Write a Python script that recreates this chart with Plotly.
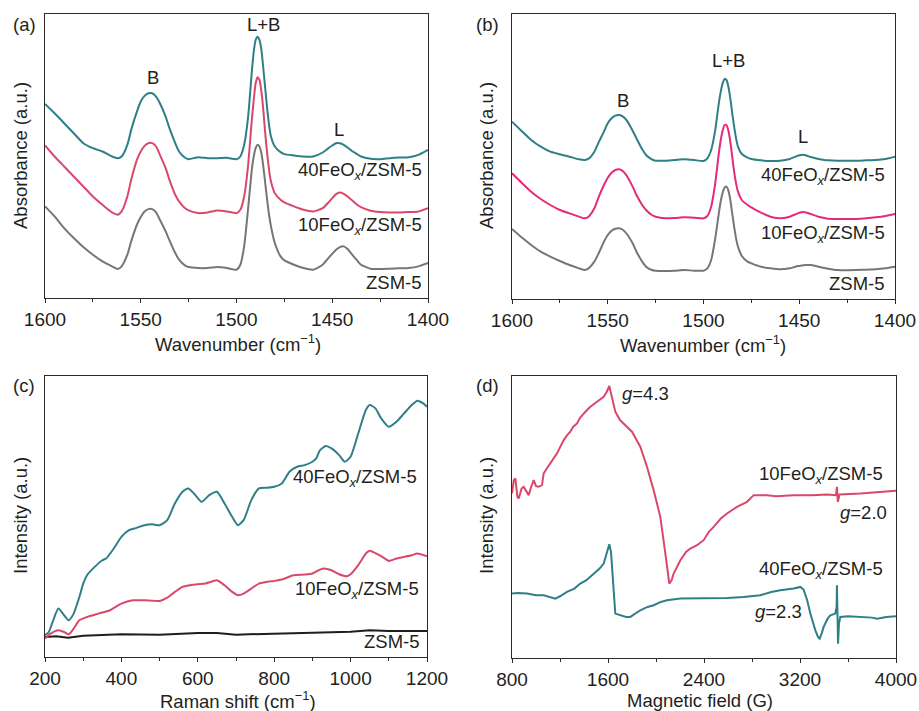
import plotly.graph_objects as go

# ---------------- Panel (a): FTIR pyridine, series (a.u.) ----------------
x_ab = [1600,1595,1590,1585,1580,1575,1570,1565,1562,1560,1557,1555,1552,1550,1548,1546,1544,1542,1540,
        1537,1535,1532,1530,1527,1525,1520,1515,1510,1505,1500,1498,1496,1494,1492,1491,1490,1489,1488,
        1487,1486,1485,1484,1483,1482,1480,1477,1475,1470,1465,1460,1455,1452,1450,1448,1446,1444,1442,
        1440,1437,1435,1430,1425,1420,1415,1410,1405,1400]

a_40 = [583,555,525,495,465,450,440,425,420,425,460,505,560,590,607,615,615,605,585,
        545,510,465,440,422,417,423,420,420,421,417,425,460,540,680,740,775,785,775,
        745,690,630,570,520,485,455,438,432,428,425,425,437,450,458,465,465,460,452,
        443,432,425,418,417,420,422,423,430,445]
a_10 = [458,425,395,365,335,305,280,257,250,260,305,355,415,440,457,465,465,455,430,
        390,355,310,290,270,263,255,257,263,260,255,265,305,395,535,595,645,663,655,
        620,565,495,435,385,350,315,295,287,275,265,260,270,287,300,312,317,313,305,
        295,280,273,262,258,257,257,258,260,270]
a_z = [275,245,210,180,153,130,110,95,87,95,130,170,220,243,260,267,267,257,235,
       200,173,135,115,98,93,90,90,93,90,85,100,155,265,385,425,450,460,455,
       435,395,345,295,250,215,165,125,113,100,90,85,100,120,133,145,153,155,147,
       133,113,100,88,87,88,89,90,95,105]

# ---------------- Panel (b) ----------------
b_40 = [532,504,477,457,442,434,427,419,417,421,442,467,502,527,542,550,552,547,535,
        505,482,449,432,419,415,415,417,419,417,414,422,447,502,587,622,647,660,657,
        637,602,557,517,482,457,435,424,420,416,414,415,420,427,431,433,430,426,423,
        420,417,416,415,415,415,416,417,420,427]
b_10 = [377,349,322,300,282,267,257,247,242,247,272,302,342,364,379,387,389,383,369,
        337,312,282,267,252,247,242,243,245,244,242,249,277,342,437,477,505,522,522,
        505,472,427,382,347,322,297,282,275,259,247,242,247,254,259,261,259,255,251,
        247,243,241,240,240,240,242,245,249,255]
b_z = [210,185,162,142,127,114,102,92,87,92,112,134,172,192,205,211,212,207,195,
       167,142,112,97,87,85,84,85,87,85,85,92,117,177,257,294,319,334,337,
       325,297,257,217,182,157,129,112,107,97,92,89,92,97,99,101,102,102,100,
       97,93,91,87,86,87,88,89,92,97]

# ---------------- Panel (c): Raman ----------------
c40_x = [200,210,220,235,250,262,275,290,300,310,330,350,360,380,400,420,440,460,480,500,520,540,560,
         575,590,610,630,650,670,690,705,720,740,760,780,800,820,840,860,880,900,910,920,935,950,970,
         985,1000,1020,1040,1050,1065,1080,1100,1120,1140,1160,1175,1190,1200]
c40_y = [65,75,105,145,125,110,130,180,220,245,270,290,295,325,360,380,387,395,398,395,410,460,495,
         505,490,465,485,495,460,420,395,410,470,505,507,510,520,555,570,575,585,595,620,632,625,605,
         585,600,670,740,755,745,715,690,705,730,755,768,760,750]
c10_x = [200,215,235,250,262,275,290,310,340,370,400,430,460,500,520,540,560,580,600,620,650,670,690,
         705,720,740,760,780,800,820,850,880,900,920,930,950,970,990,1000,1020,1040,1050,1070,1090,
         1100,1120,1140,1160,1175,1200]
c10_y = [55,70,80,75,68,85,110,120,130,140,160,170,170,168,178,195,210,215,218,220,230,215,195,
         185,190,205,220,225,228,232,245,247,250,262,265,260,248,242,248,275,310,318,308,295,
         288,295,300,305,310,302]
cz_x = [200,230,260,300,400,500,600,650,700,750,800,900,1000,1050,1100,1200]
cz_y = [60,62,58,64,68,67,72,72,67,68,70,73,76,80,78,78]

# ---------------- Panel (d): EPR ----------------
d10_x = [800,815,828,845,856,880,897,920,939,960,981,1000,1022,1050,1064,1090,1119,1150,1175,1200,
         1231,1260,1286,1310,1342,1370,1397,1425,1453,1480,1508,1535,1564,1590,1611,1625,1640,1661,
         1700,1758,1800,1869,1925,1980,2036,2078,2100,2111,2130,2147,2203,2250,2286,2342,2397,2440,
         2481,2540,2592,2675,2758,2814,2870,2925,3000,3147,3300,3425,3500,3508,3515,3530,3703,3850,4000]
d10_y = [493,533,538,483,478,508,513,498,488,513,533,515,513,518,553,568,583,601,613,631,
         653,668,678,693,703,721,733,743,753,761,768,775,783,798,815,793,768,738,
         713,693,678,633,573,503,423,313,243,223,233,253,293,318,328,338,353,378,
         393,418,433,453,468,488,488,488,485,488,488,490,488,513,468,490,493,496,501]
d40_x = [800,850,925,1000,1064,1120,1161,1200,1258,1320,1369,1420,1481,1530,1564,1592,1611,1625,1640,
         1653,1661,1703,1750,1786,1830,1869,1930,1981,2040,2092,2203,2314,2450,2592,2730,2869,2960,
         3036,3147,3203,3230,3260,3286,3310,3328,3350,3364,3380,3397,3430,3453,3494,3505,3508,3512,
         3517,3525,3536,3600,3703,3800,3842,3920,4000]
d40_y = [193,195,193,188,188,181,178,185,198,208,223,233,253,268,283,323,341,318,253,
         173,133,128,123,123,133,143,153,158,168,173,178,178,178,180,183,188,198,
         203,208,213,205,173,133,103,83,63,58,73,93,118,128,133,153,218,133,
         43,103,123,125,123,121,118,123,125]

TEAL = "#2e7f86"
PINK_A = "#d9486b"
PINK_B = "#e52a7a"
GRAY = "#767676"
BLACK = "#1e1e1e"
TXT = "#231f20"
FONT = "Arial, Liberation Sans, sans-serif"
FS = 18.5
FT = 19

W, H = 919, 711
def pxx(x):
    return x / W
def pxy(y):
    return 1 - y / H

fig = go.Figure()

def line(x, y, color, xa, ya, smooth=True):
    fig.add_trace(go.Scatter(
        x=x, y=y, mode="lines", xaxis=xa, yaxis=ya, showlegend=False,
        line=dict(color=color, width=2, shape="spline" if smooth else "linear",
                  smoothing=0.6 if smooth else None),
        hoverinfo="skip"))

line(x_ab, a_z, GRAY, "x", "y")
line(x_ab, a_10, PINK_A, "x", "y")
line(x_ab, a_40, TEAL, "x", "y")
line(x_ab, b_z, GRAY, "x2", "y2")
line(x_ab, b_10, PINK_B, "x2", "y2")
line(x_ab, b_40, TEAL, "x2", "y2")
line(cz_x, cz_y, BLACK, "x3", "y3", smooth=False)
line(c10_x, c10_y, PINK_A, "x3", "y3")
line(c40_x, c40_y, TEAL, "x3", "y3")
line(d10_x, d10_y, PINK_A, "x4", "y4", smooth=False)
line(d40_x, d40_y, TEAL, "x4", "y4", smooth=False)

# domains from pixel box positions
dom = {
    "a": ([pxx(45), pxx(428)], [pxy(298), pxy(14)]),
    "b": ([pxx(512), pxx(895)], [pxy(299), pxy(14)]),
    "c": ([pxx(45), pxx(427)], [pxy(657), pxy(376)]),
    "d": ([pxx(512), pxx(896)], [pxy(658), pxy(376)]),
}

def xaxis(domain, rng, tickvals, minor_dtick, anchor):
    return dict(domain=domain, range=rng, anchor=anchor, showline=True, linecolor="#2a2a2a",
                linewidth=1.3, mirror=True, ticks="outside", ticklen=4, tickwidth=1.2,
                tickcolor="#2a2a2a", tickvals=tickvals, showgrid=False, zeroline=False,
                automargin=False,
                tickfont=dict(family=FONT, size=FT, color=TXT),
                minor=dict(ticks="outside", ticklen=2.5, tickwidth=1.2, tickcolor="#2a2a2a",
                           dtick=minor_dtick, tick0=0, showgrid=False))

def yaxis(domain, rng, anchor):
    return dict(domain=domain, range=rng, anchor=anchor, showline=True, linecolor="#2a2a2a",
                linewidth=1.3, mirror=True, ticks="", showticklabels=False, showgrid=False,
                zeroline=False, automargin=False)

fig.update_layout(
    width=W, height=H, margin=dict(l=0, r=0, t=0, b=0, pad=0),
    paper_bgcolor="white", plot_bgcolor="white",
    xaxis=xaxis(dom["a"][0], [1600, 1400], [1600, 1550, 1500, 1450, 1400], 25, "y"),
    yaxis=yaxis(dom["a"][1], [0, 853], "x"),
    xaxis2=xaxis(dom["b"][0], [1600, 1400], [1600, 1550, 1500, 1450, 1400], 25, "y2"),
    yaxis2=yaxis(dom["b"][1], [0, 855], "x2"),
    xaxis3=xaxis(dom["c"][0], [200, 1200], [200, 400, 600, 800, 1000, 1200], 100, "y3"),
    yaxis3=yaxis(dom["c"][1], [0, 842], "x3"),
    xaxis4=xaxis(dom["d"][0], [800, 4000], [800, 1600, 2400, 3200, 4000], 400, "y4"),
    yaxis4=yaxis(dom["d"][1], [0, 845], "x4"),
)

ann = []
def t(text, x, y, xref, yref, xanchor="center", yanchor="middle", angle=0):
    ann.append(dict(text=text, x=x, y=y, xref=xref, yref=yref, xanchor=xanchor, yanchor=yanchor,
                    showarrow=False, textangle=angle, font=dict(family=FONT, size=FS, color=TXT)))

S40 = "40FeO<sub><i>x</i></sub>/ZSM-5"
S10 = "10FeO<sub><i>x</i></sub>/ZSM-5"

# panel (a) labels
t("B", 1543.5, 663, "x", "y")
t("L+B", 1486, 822, "x", "y")
t("L", 1446.6, 505, "x", "y")
t(S40, 1402.3, 380, "x", "y", xanchor="right")
t(S10, 1402.3, 215, "x", "y", xanchor="right")
t("ZSM-5", 1402.3, 47, "x", "y", xanchor="right")
# panel (b)
t("B", 1542.3, 597, "x2", "y2")
t("L+B", 1487, 715, "x2", "y2")
t("L", 1448.3, 487, "x2", "y2")
t(S40, 1404, 369, "x2", "y2", xanchor="right")
t(S10, 1404, 195, "x2", "y2", xanchor="right")
t("ZSM-5", 1404, 47, "x2", "y2", xanchor="right")
# panel (c)
t(S40, 1178, 535, "x3", "y3", xanchor="right")
t(S10, 1184, 202, "x3", "y3", xanchor="right")
t("ZSM-5", 1187, 45, "x3", "y3", xanchor="right")
# panel (d)
t("<i>g</i>=4.3", 1703, 793, "x4", "y4", xanchor="left")
t(S10, 3911, 548, "x4", "y4", xanchor="right")
t("<i>g</i>=2.0", 3939, 435, "x4", "y4", xanchor="right")
t(S40, 3911, 263, "x4", "y4", xanchor="right")
t("<i>g</i>=2.3", 3231, 138, "x4", "y4", xanchor="right")

# panel letters
t("(a)", pxx(24), pxy(25), "paper", "paper")
t("(b)", pxx(488), pxy(25), "paper", "paper")
t("(c)", pxx(24), pxy(386), "paper", "paper")
t("(d)", pxx(488), pxy(386), "paper", "paper")

# axis titles
t("Wavenumber (cm<sup>−1</sup>)", pxx(238), pxy(343), "paper", "paper")
t("Wavenumber (cm<sup>−1</sup>)", pxx(703), pxy(344), "paper", "paper")
t("Raman shift (cm<sup>−1</sup>)", pxx(238), pxy(700), "paper", "paper")
t("Magnetic field (G)", pxx(700), pxy(700), "paper", "paper")
t("Absorbance (a.u.)", pxx(20), pxy(156), "paper", "paper", angle=-90)
t("Absorbance (a.u.)", pxx(486), pxy(156), "paper", "paper", angle=-90)
t("Intensity (a.u.)", pxx(20), pxy(516), "paper", "paper", angle=-90)
t("Intensity (a.u.)", pxx(486), pxy(516), "paper", "paper", angle=-90)

fig.update_layout(annotations=ann)
fig.write_html("out.html")
